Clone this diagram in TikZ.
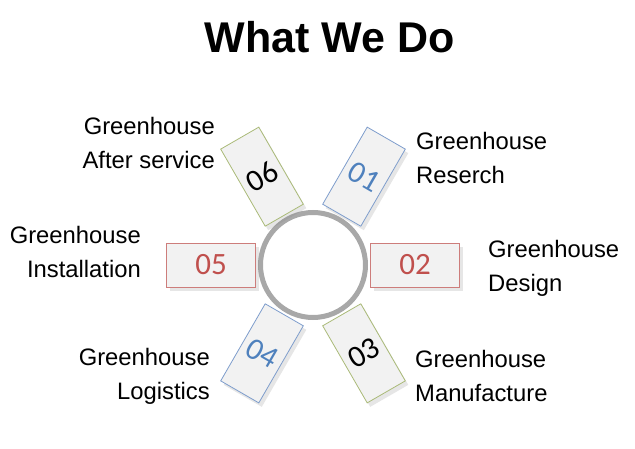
\documentclass[tikz,border=0pt]{standalone}
\usepackage{fontspec}
\setmainfont{Liberation Sans}
\newfontfamily\numfont{Carlito}
\usepackage{tikz}
\usetikzlibrary{shapes, shadows}
\definecolor{boxfill}{RGB}{242, 242, 242}
\definecolor{blueline}{RGB}{126, 157, 204}
\definecolor{bluetext}{RGB}{79, 129, 189}
\definecolor{redline}{RGB}{205, 125, 123}
\definecolor{redtext}{RGB}{192, 80, 77}
\definecolor{olveline}{RGB}{170, 186, 120}
\definecolor{ringgray}{RGB}{168, 168, 168}
\newcommand*{\w}{44}

\begin{document}
\begin{tikzpicture}[
   x=1pt, y=1pt,
   hubcirc/.style={circle, draw=ringgray, line width=5, fill=white,
                   inner sep=0, minimum size=105},
   numbox/.style={rectangle, fill=boxfill, line width=0.8, inner sep=0,
                  font=\numfont\fontsize{31}{31}\selectfont,
                  drop shadow={shadow xshift=3pt, shadow yshift=-4pt, opacity=0.2}},
   widerec/.style={numbox, minimum width=89, minimum height=\w},
   tallrec/.style={numbox, minimum width=\w, minimum height=89},
   bluerec/.style={tallrec, draw=blueline, text=bluetext, rotate=-30},
   redrec/.style={widerec, draw=redline, text=redtext},
   olverec/.style={tallrec, draw=olveline, text=black, rotate=30},
   labtxt/.style={inner sep=0, font=\fontsize{23.8}{34}\selectfont}
  ]

  % Box distance from the hub
  \pgfmathsetmacro{\rad}{102}

  \useasboundingbox (0, 0) rectangle (635, 448);

  \node (title) at (330, 395) [anchor=base, font=\bfseries\fontsize{43}{43}\selectfont]
        {What We Do};

  \node (hub) at (313, 183) [hubcirc] {};

  \node (b1) at ([shift={(60:\rad)}]hub.center) [bluerec] {01};
  \node (b2) at ([shift={(0:\rad)}]hub.center) [redrec] {02};
  \node (b3) at ([shift={(-60:\rad)}]hub.center) [olverec] {03};
  \node (b4) at ([shift={(240:\rad)}]hub.center) [bluerec] {04};
  \node (b5) at ([shift={(180:\rad)}]hub.center) [redrec] {05};
  \node (b6) at ([shift={(120:\rad)}]hub.center) [olverec] {06};

  \node (l1) at (416, 288.8) [labtxt, anchor=west, align=left]
        {\strut Greenhouse\\\strut Reserch};
  \node (l2) at (488, 180.8) [labtxt, anchor=west, align=left]
        {\strut Greenhouse\\\strut Design};
  \node (l3) at (415, 70.8) [labtxt, anchor=west, align=left]
        {\strut Greenhouse\\\strut Manufacture};
  \node (l4) at (210, 72.8) [labtxt, anchor=east, align=right]
        {\strut Greenhouse\\\strut Logistics};
  \node (l5) at (141, 194.8) [labtxt, anchor=east, align=right]
        {\strut Greenhouse\\\strut Installation};
  \node (l6) at (215, 302.8) [labtxt, anchor=east, align=right]
        {\strut Greenhouse\\\strut After service};

\end{tikzpicture}
\end{document}
